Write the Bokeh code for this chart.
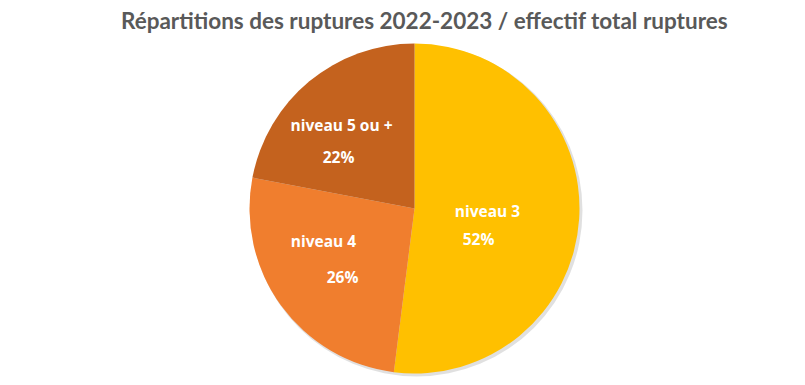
import math
from bokeh.plotting import figure
from bokeh.models import Range1d, ColumnDataSource
from bokeh.core.properties import value
from bokeh.embed import file_html
from bokeh.resources import INLINE

title = "Répartitions des ruptures 2022-2023 / effectif total ruptures"
categories = ["niveau 3", "niveau 4", "niveau 5 ou +"]
percents = [52, 26, 22]
colors = ["#FFC000", "#F07E2E", "#C4621E"]

W, H = 789, 377
p = figure(width=W, height=H, output_backend="svg", toolbar_location=None,
           x_range=Range1d(0, W), y_range=Range1d(0, H), min_border=0)
p.axis.visible = False
p.grid.visible = False
p.outline_line_color = None
p.background_fill_color = "white"
p.border_fill_color = "white"

cx, cy, r = 414, 169, 165

starts, ends = [], []
cum = 0.0
total = float(sum(percents))
for v in percents:
    a0 = math.pi / 2 - 2 * math.pi * cum / total
    cum += v
    a1 = math.pi / 2 - 2 * math.pi * cum / total
    starts.append(a1)
    ends.append(a0)

src = ColumnDataSource(dict(start=starts, end=ends, color=colors, cat=categories))

p.circle(x=[cx + 2], y=[cy - 2], radius=r + 1, fill_color="#000000", fill_alpha=0.12, line_color=None)
p.wedge(x=cx, y=cy, radius=r, start_angle="start", end_angle="end", fill_color="color",
        line_color=None, source=src)

lab_x = [487, 323, 341]
lab_y = [167, 137, 253]
pct_x = [478, 342, 338]
pct_y = [139, 101, 221]
pct_txt = [f"{v}%" for v in percents]
p.text(x=lab_x, y=lab_y, text=categories, text_color="white", text_font=value("Open Sans"),
       text_font_style="bold", text_font_size="15.5px", text_align="center", text_baseline="middle")
p.text(x=pct_x, y=pct_y, text=pct_txt, text_color="white", text_font=value("Open Sans"),
       text_font_style="bold", text_font_size="15.5px", text_align="center", text_baseline="middle")

p.text(x=[424], y=[357], text=[title], text_color="#595959", text_font=value("Lato"),
       text_font_style="bold", text_font_size="22.5px", text_align="center", text_baseline="middle")

open("out.html", "w").write(file_html(p, INLINE))
